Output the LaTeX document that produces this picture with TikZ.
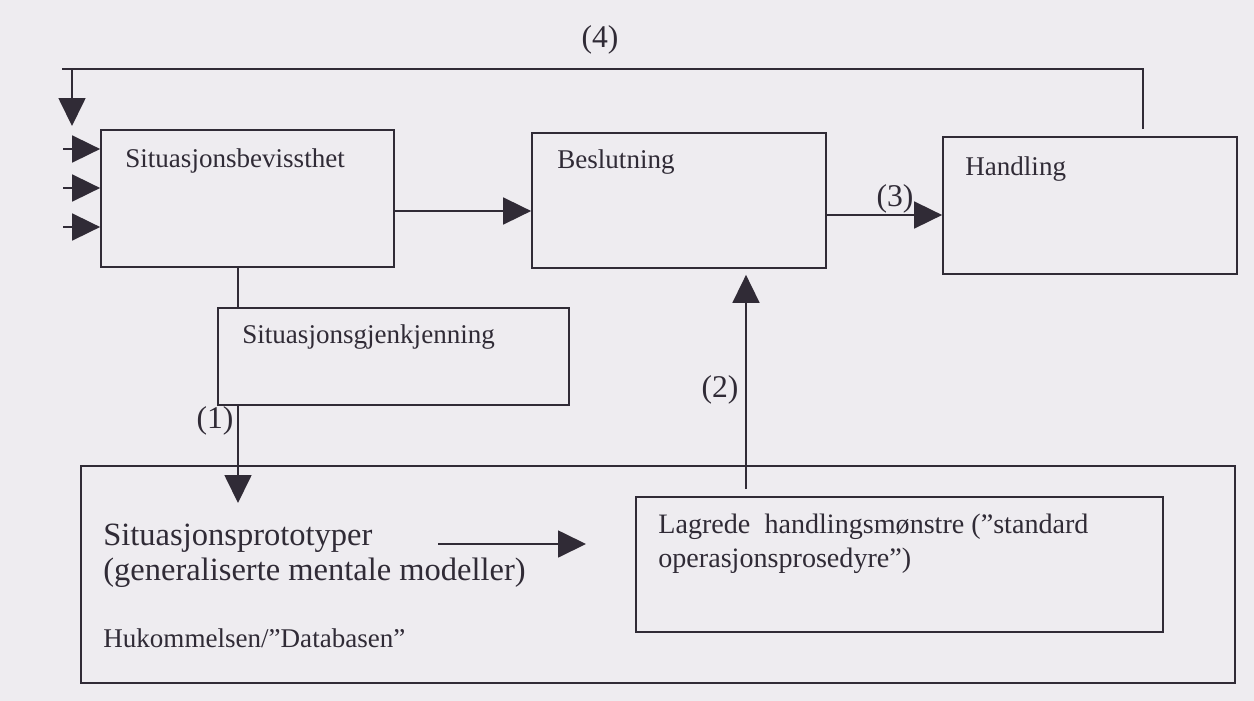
\documentclass[tikz,border=0pt]{standalone}
\usepackage{fontspec}
\setmainfont{Liberation Serif}
\usetikzlibrary{arrows.meta,fit}
\definecolor{paper}{RGB}{238,236,240}
\definecolor{ink}{RGB}{48,43,54}
\begin{document}
\begin{tikzpicture}[x=0.02cm,y=-0.02cm,
  box/.style={draw=ink,line width=1pt,inner sep=0pt},
  lbl/.style={text=ink,font=\fontsize{15.4}{18}\selectfont,anchor=base west,inner sep=0pt},
  big/.style={text=ink,font=\fontsize{18.5}{20}\selectfont,anchor=base west,inner sep=0pt},
  num/.style={text=ink,font=\fontsize{18}{20}\selectfont,inner sep=0pt},
  wire/.style={draw=ink,line width=1pt},
  arr/.style={wire,-{Triangle[length=0.56cm,width=0.54cm]}},
]
\useasboundingbox (0,0) rectangle (1254,700);
\fill[paper] (-10,-10) rectangle (1264,710);

% boxes
\node[box,fit={(101,130)(394,267)}] (sb) {};
\node[box,fit={(532,133)(826,268)}] (bs) {};
\node[box,fit={(943,137)(1237,274)}] (hd) {};
\node[box,fit={(218,308)(569,405)}] (gj) {};
\node[box,fit={(81,466)(1235,683)}] (mem) {};
\node[box,fit={(636,497)(1163,632)}] (lg) {};

% box texts
\node[lbl] (sbt) at (125,167) {Situasjonsbevissthet};
\node[lbl] (bst) at (557,168) {Beslutning};
\node[lbl] (hdt) at (965,175) {Handling};
\node[lbl] (gjt) at (242,343) {Situasjonsgjenkjenning};
\node[big] (pt1) at (103,545) {Situasjonsprototyper};
\node[big] (pt2) at (103,580) {(generaliserte mentale modeller)};
\node[lbl] (memt) at (103,647) {Hukommelsen/"Databasen”};
\node[lbl,font=\fontsize{16}{18}\selectfont] (lg1) at (658,533) {Lagrede~ handlingsmønstre (”standard};
\node[lbl,font=\fontsize{16}{18}\selectfont] (lg2) at (658,567) {operasjonsprosedyre”)};

% connector labels
\node[num] (n1) at (215,421) {(1)};
\node[num] (n2) at (720,390) {(2)};
\node[num] (n3) at (895,199) {(3)};
\node[num] (n4) at (600,40) {(4)};

% helper coordinates
\coordinate (fbx) at (1143,0);
\coordinate (fbL) at (62,69);
\coordinate (fbD) at (72,69);
\coordinate (fbT) at (72,126);
\coordinate (r1) at (0,211);
\coordinate (r3) at (0,215);
\coordinate (c1) at (238,0);
\coordinate (t1) at (238,503);
\coordinate (c2) at (746,0);
\coordinate (pa) at (438,544);
\coordinate (pb) at (586,544);

% feedback loop (4)
\draw[wire,shorten <=0.14cm] (hd.north -| fbx) |- (fbL);
\draw[arr] (fbD) -- (fbT);

% external inputs
\foreach \y/\n in {149/a,188/b,227/c}{
  \coordinate (in\n) at (63,\y);
  \draw[arr] (in\n) -- (in\n -| sb.west);
}

% main flow
\draw[arr] (sb.east |- r1) -- (bs.west |- r1);
\draw[arr] (bs.east |- r3) -- (hd.west |- r3);
\draw[wire] (sb.south -| c1) -- (gj.north -| c1);
\draw[arr] (gj.south -| c1) -- (t1);
\draw[arr,shorten <=0.14cm,shorten >=0.12cm] (lg.north -| c2) -- (bs.south -| c2);
\draw[arr] (pa) -- (pb);
\end{tikzpicture}
\end{document}
